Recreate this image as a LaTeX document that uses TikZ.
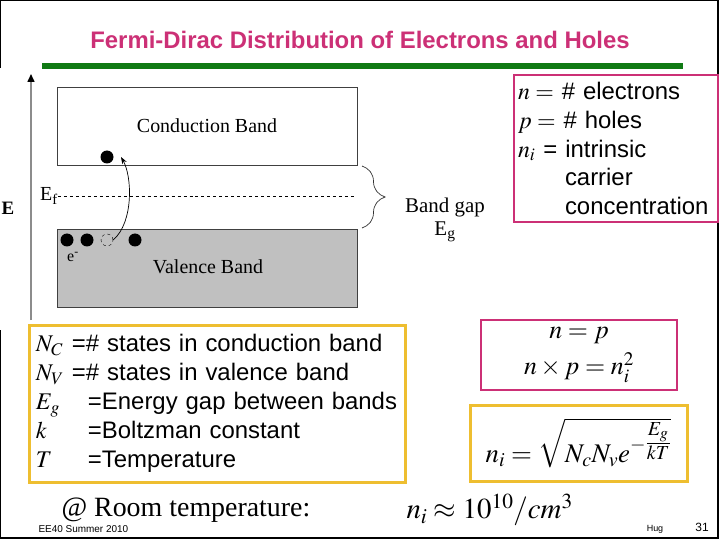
\documentclass[tikz,border=0pt]{standalone}
\usepackage{amsmath}
\usepackage{mathptmx}
\usepackage{fontspec}
\setmainfont{Liberation Serif}
\setsansfont{Liberation Sans}
\usepackage{xcolor}
\usepackage{tikz}
\usetikzlibrary{arrows.meta,positioning,calc,decorations.pathreplacing}
\definecolor{Pink}{RGB}{204,48,118}
\definecolor{Gold}{RGB}{238,190,48}
\definecolor{Bar}{RGB}{16,122,20}
\definecolor{Vband}{RGB}{192,192,192}
\tikzset{
  Band/.style={draw=black!75, line width=0.8bp, minimum width=300bp,
               minimum height=78bp, inner sep=0pt, font=\fontsize{20}{23}\selectfont},
  Dot/.style={circle, fill=black, minimum size=13bp, inner sep=0pt},
  Hole/.style={circle, draw, dashed, minimum size=12bp, inner sep=0pt},
  Pbox/.style={draw=Pink, line width=2.5bp, inner xsep=4bp, inner ysep=0pt},
  Ybox/.style={draw=Gold, line width=3bp, inner xsep=6bp, inner ysep=0pt},
  Stxt/.style={font=\sffamily\fontsize{24}{29}\selectfont},
  Narr/.style={-{Stealth[length=7bp,width=5bp]}, line width=0.7bp}
}
\newcommand{\symA}[1]{\makebox[36bp][l]{#1}}
\newcommand{\symB}[1]{\makebox[52bp][l]{#1}}

\begin{document}
\begin{tikzpicture}[x=1bp, y=-1bp]
  \useasboundingbox (0,0) rectangle (720,540);
  % slide frame and header
  \draw[line width=1.5bp] (0,68) -- (0,0) -- (718,0) -- (718,538) -- (0,538) -- (0,330);
  \node[font=\sffamily\bfseries\fontsize{24}{28}\selectfont, text=Pink] (title) at (360,40)
    {Fermi-Dirac Distribution of Electrons and Holes};
  \fill[Bar] (42,63) rectangle (683,69);

  % energy axis
  \coordinate (ebot) at (31,320);
  \coordinate (etop) at (31,74);
  \draw[draw=black!45, line width=1.5bp, -{Triangle[black,length=8bp,width=7bp]}] (ebot) -- (etop);
  \node[font=\bfseries\fontsize{19}{22}\selectfont] (elab) at (8,208) {E};

  % bands
  \node[Band, fill=white] (cb) at (207,126) {Conduction Band};
  \node[Band, fill=Vband] (vb) at (207,268) {};
  \node[font=\fontsize{20}{23}\selectfont] (vblab) at (208,267) {Valence Band};
  \coordinate (efl) at (58,196);
  \coordinate (efr) at (356,196);
  \draw[dashed, line width=0.7bp] (efl) -- (efr);
  \node[font=\fontsize{20}{23}\selectfont] (ef) at (49,196) {E\textsubscript{f}};

  % band gap
  \coordinate (gtop) at (362,166);
  \coordinate (gbot) at (362,228);
  \draw[line width=0.7bp, black!80, decorate, decoration={brace, amplitude=23bp}] (gtop) -- (gbot);
  \node[font=\fontsize{21}{23}\selectfont, align=center] (gap) at (445,220)
    {Band gap\\E\textsubscript{g}};

  % carriers
  \node[Dot] (el) at (107,157) {};
  \node[Dot] (v1) at (67,240) {};
  \node[Dot] (v2) at (87,240) {};
  \node[Hole] (hole) at (107,240) {};
  \node[Dot] (v4) at (135,240) {};
  \node[font=\fontsize{16}{18}\selectfont] (elec) at (73,257) {e\textsuperscript{-}};
  \coordinate (tipc) at (121,157);
  \draw[Narr] (hole.east) .. controls (134,222) and (132,176) .. (tipc);

  % definitions
  \node[Pbox, Stxt, text width=196bp, minimum height=147bp, align=left] (defs) at (616,148.5)
    {$n=$ \# electrons\\
     $p=$ \# holes\\
     $n_i$ = intrinsic\\
     \hspace*{47bp}carrier\\
     \hspace*{47bp}concentration};
  \node[Ybox, Stxt, text width=363bp, minimum height=157bp, align=left] (consts) at (217.5,403.5)
    {\symA{$N_C$}=\# states in conduction band\\
     \symA{$N_V$}=\# states in valence band\\
     \symB{$E_g$}=Energy gap between bands\\
     \symB{$k$}=Boltzman constant\\
     \symB{$T$}=Temperature};

  % relations
  \node[Pbox, minimum width=196bp, minimum height=70bp, align=center,
        font=\fontsize{26}{36}\selectfont] (npq) at (579,355)
    {$n=p$\\$n\times p=n_i^2$};
  \node[Ybox, minimum width=217bp, minimum height=76bp,
        font=\fontsize{27}{30}\selectfont] (nieq) at (578.5,443)
    {$n_i=\sqrt{N_cN_ve^{-{\textstyle\frac{E_g}{kT}}}}$};

  % room temperature
  \node[font=\fontsize{28}{32}\selectfont, anchor=west] (room) at (58,510) {@ Room temperature:};
  \node[font=\fontsize{29}{32}\selectfont, anchor=west] (nival) at (403,510) {$n_i\approx 10^{10}/cm^3$};

  % footer
  \node[font=\sffamily\fontsize{10}{11}\selectfont, anchor=west] (course) at (35,529) {EE40 Summer 2010};
  \node[font=\sffamily\fontsize{9}{10}\selectfont] (auth) at (655,529) {Hug};
  \node[font=\sffamily\fontsize{12}{14}\selectfont] (page) at (702,527) {31};
\end{tikzpicture}
\end{document}
